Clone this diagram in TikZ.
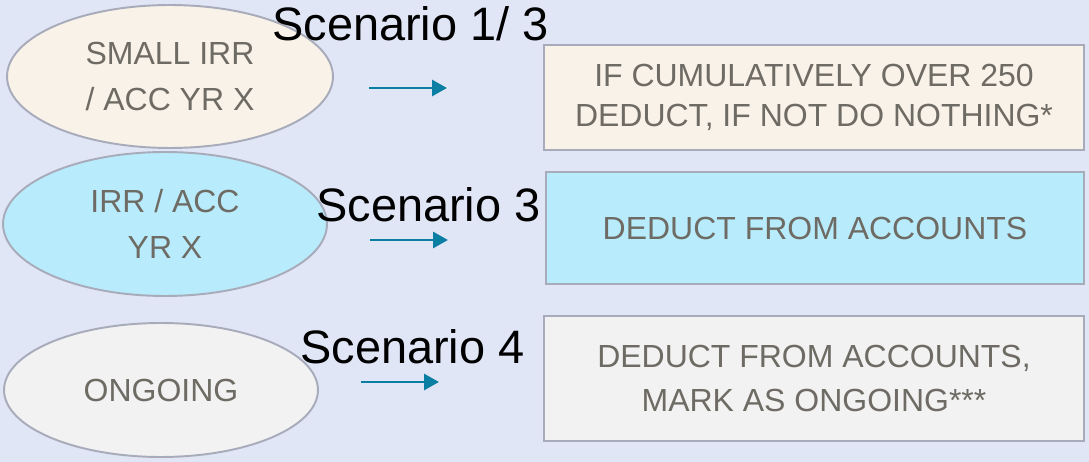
\documentclass[tikz,border=0pt]{standalone}
\usepackage{fontspec}
\setmainfont{Liberation Sans}
\usetikzlibrary{shapes.geometric,arrows.meta}

\definecolor{pagebg}{RGB}{224,230,246}
\definecolor{beige}{RGB}{248,242,232}
\definecolor{skycyan}{RGB}{184,236,252}
\definecolor{palegray}{RGB}{242,242,242}
\definecolor{edgegray}{RGB}{168,171,186}
\definecolor{txtgray}{RGB}{110,107,100}
\definecolor{teal}{RGB}{11,127,163}

\begin{document}
\begin{tikzpicture}[x=0.02cm, y=-0.02cm,
        oval/.style={ellipse, draw=edgegray, line width=1.1pt, text=txtgray, align=center, inner sep=0pt,
            font=\fontsize{18.2}{26}\selectfont},
        rbox/.style={rectangle, draw=edgegray, line width=1.1pt, text=txtgray, align=center, inner sep=0pt,
            minimum width=10.8cm, font=\fontsize{18.2}{23}\selectfont},
        scen/.style={anchor=base west, inner sep=0pt, font=\fontsize{26.7}{32}\selectfont},
        flow/.style={teal, line width=1.7pt, -{Triangle[length=0.3cm, width=0.32cm]}}]
        \fill[pagebg] (0,0) rectangle (1089,462);
        \useasboundingbox (0,0) rectangle (1089,462);

        % left column
        \node[oval, fill=beige, minimum width=6.52cm, minimum height=2.86cm] (small) at (170,76.5) {SMALL IRR\\/ ACC YR X};
        \node[oval, fill=skycyan, minimum width=6.48cm, minimum height=2.88cm] (irr) at (165,224) {IRR / ACC\\YR X};
        \node[oval, fill=palegray, minimum width=6.28cm, minimum height=2.68cm] (ongoing) at (161,390) {ONGOING};

        % right column
        \node[rbox, fill=beige, minimum height=2.1cm] (cumul) at (814,97.5) {IF CUMULATIVELY OVER 250\\DEDUCT, IF NOT DO NOTHING*};
        \node[rbox, fill=skycyan, minimum width=10.76cm, minimum height=2.24cm] (deduct) at (815,228) {DEDUCT FROM ACCOUNTS};
        \node[rbox, fill=palegray, minimum height=2.5cm, font=\fontsize{18.2}{24.5}\selectfont] (mark) at (814,378.5) {DEDUCT FROM ACCOUNTS,\\MARK AS ONGOING***};

        % arrows
        \coordinate (s1) at (369,88);  \coordinate (e1) at (447,88);
        \coordinate (s2) at (370,240); \coordinate (e2) at (448,240);
        \coordinate (s3) at (361,382); \coordinate (e3) at (439,382);
        \draw[flow] (s1) -- (e1);
        \draw[flow] (s2) -- (e2);
        \draw[flow] (s3) -- (e3);

        % labels
        \node[scen] (sc1) at (272,41) {Scenario 1/ 3};
        \node[scen] (sc3) at (316,222) {Scenario 3};
        \node[scen] (sc4) at (300,364) {Scenario 4};
    \end{tikzpicture}
\end{document}
